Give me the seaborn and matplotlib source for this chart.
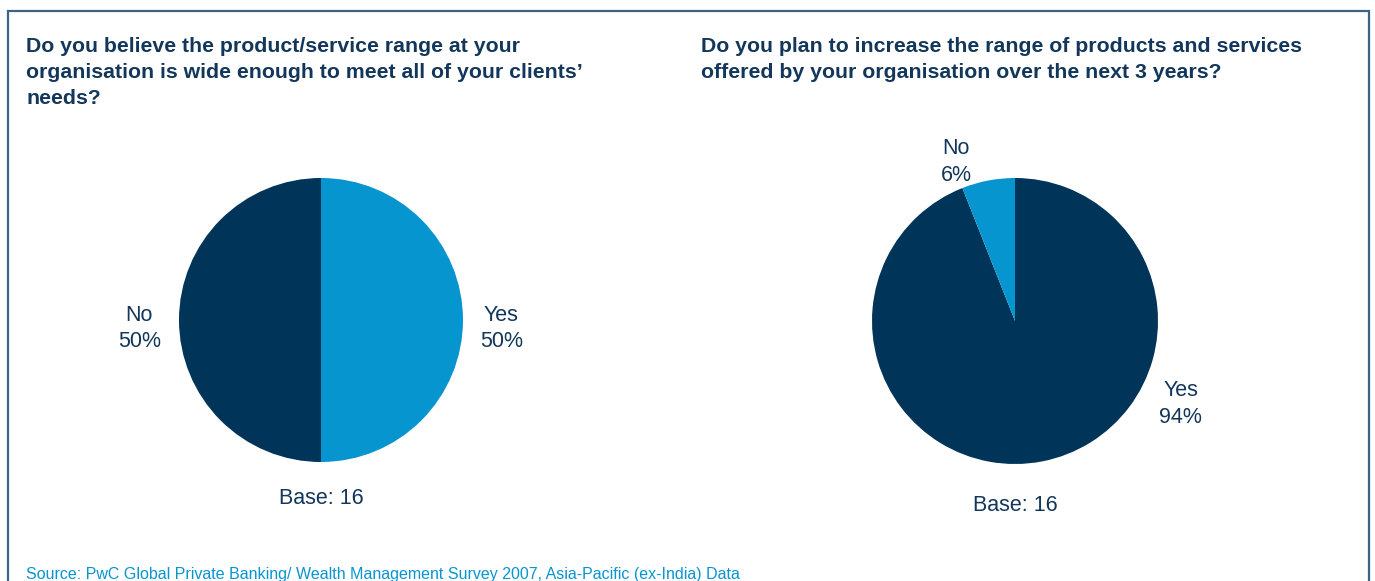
import matplotlib
matplotlib.use("Agg")
import matplotlib.pyplot as plt
import matplotlib.patches as mpatches
import seaborn as sns

sns.set_theme(style="white")
plt.rcParams['font.family'] = ['Liberation Sans', 'DejaVu Sans']

# ---- data ----
categories = ["Yes", "No"]
q1_values = [50, 50]
q2_values = [94, 6]
base_n = [16, 16]
titles = [
    "Do you believe the product/service range at your\norganisation is wide enough to meet all of your clients’\nneeds?",
    "Do you plan to increase the range of products and services\noffered by your organisation over the next 3 years?",
]
source = "Source: PwC Global Private Banking/ Wealth Management Survey 2007, Asia-Pacific (ex-India) Data"

LIGHT = "#0795d0"
DARK = "#003458"
TEXT = "#12375a"
colors = [LIGHT, DARK]       # Q1: Yes light, No dark
colors2 = [DARK, LIGHT]      # Q2: Yes dark, No light

W, H = 1375, 581
fig = plt.figure(figsize=(W / 100, H / 100), dpi=100)
fig.patch.set_facecolor("white")

# frame
rect = mpatches.Rectangle((8 / W, -0.05), (1369 - 8) / W, (H - 11) / H + 0.05,
                          transform=fig.transFigure, fill=False,
                          edgecolor="#3d6385", linewidth=1.6)
fig.patches.append(rect)

def make_ax(left, top, size):
    ax = fig.add_axes([left / W, (H - top - size) / H, size / W, size / H])
    ax.set_xlim(-1, 1)
    ax.set_ylim(-1, 1)
    ax.set_axis_off()
    return ax

ax1 = make_ax(179, 178, 284)
ax2 = make_ax(872, 178, 286)

for ax, vals, cols in [(ax1, q1_values, colors), (ax2, q2_values, colors2)]:
    ax.pie(vals, colors=cols, startangle=90, counterclock=False, radius=1,
           wedgeprops=dict(linewidth=0), frame=False)
    ax.set_xlim(-1, 1)
    ax.set_ylim(-1, 1)

lab_kw = dict(ha="center", va="center", fontsize=15.5, color=TEXT, linespacing=1.35,
              clip_on=False)
# Q1 labels
ax1.text(1.27, -0.06, f"{categories[0]}\n{q1_values[0]}%", **lab_kw)
ax1.text(-1.28, -0.06, f"{categories[1]}\n{q1_values[1]}%", **lab_kw)
ax1.text(0, -1.26, f"Base: {base_n[0]}", **lab_kw)
# Q2 labels
ax2.text(1.16, -0.58, f"{categories[0]}\n{q2_values[0]}%", **lab_kw)
ax2.text(-0.41, 1.11, f"{categories[1]}\n{q2_values[1]}%", **lab_kw)
ax2.text(0, -1.29, f"Base: {base_n[1]}", **lab_kw)

fig.text(26 / W, 1 - 37 / H, titles[0], ha="left", va="top", fontsize=15.3,
         fontweight="bold", color=TEXT, linespacing=1.46)
fig.text(701 / W, 1 - 37 / H, titles[1], ha="left", va="top", fontsize=15.3,
         fontweight="bold", color=TEXT, linespacing=1.46)
fig.text(26 / W, 1 - 574 / H, source, ha="left", va="center", fontsize=11.5,
         color=LIGHT)

fig.savefig("out.png", dpi=100, facecolor="white")
